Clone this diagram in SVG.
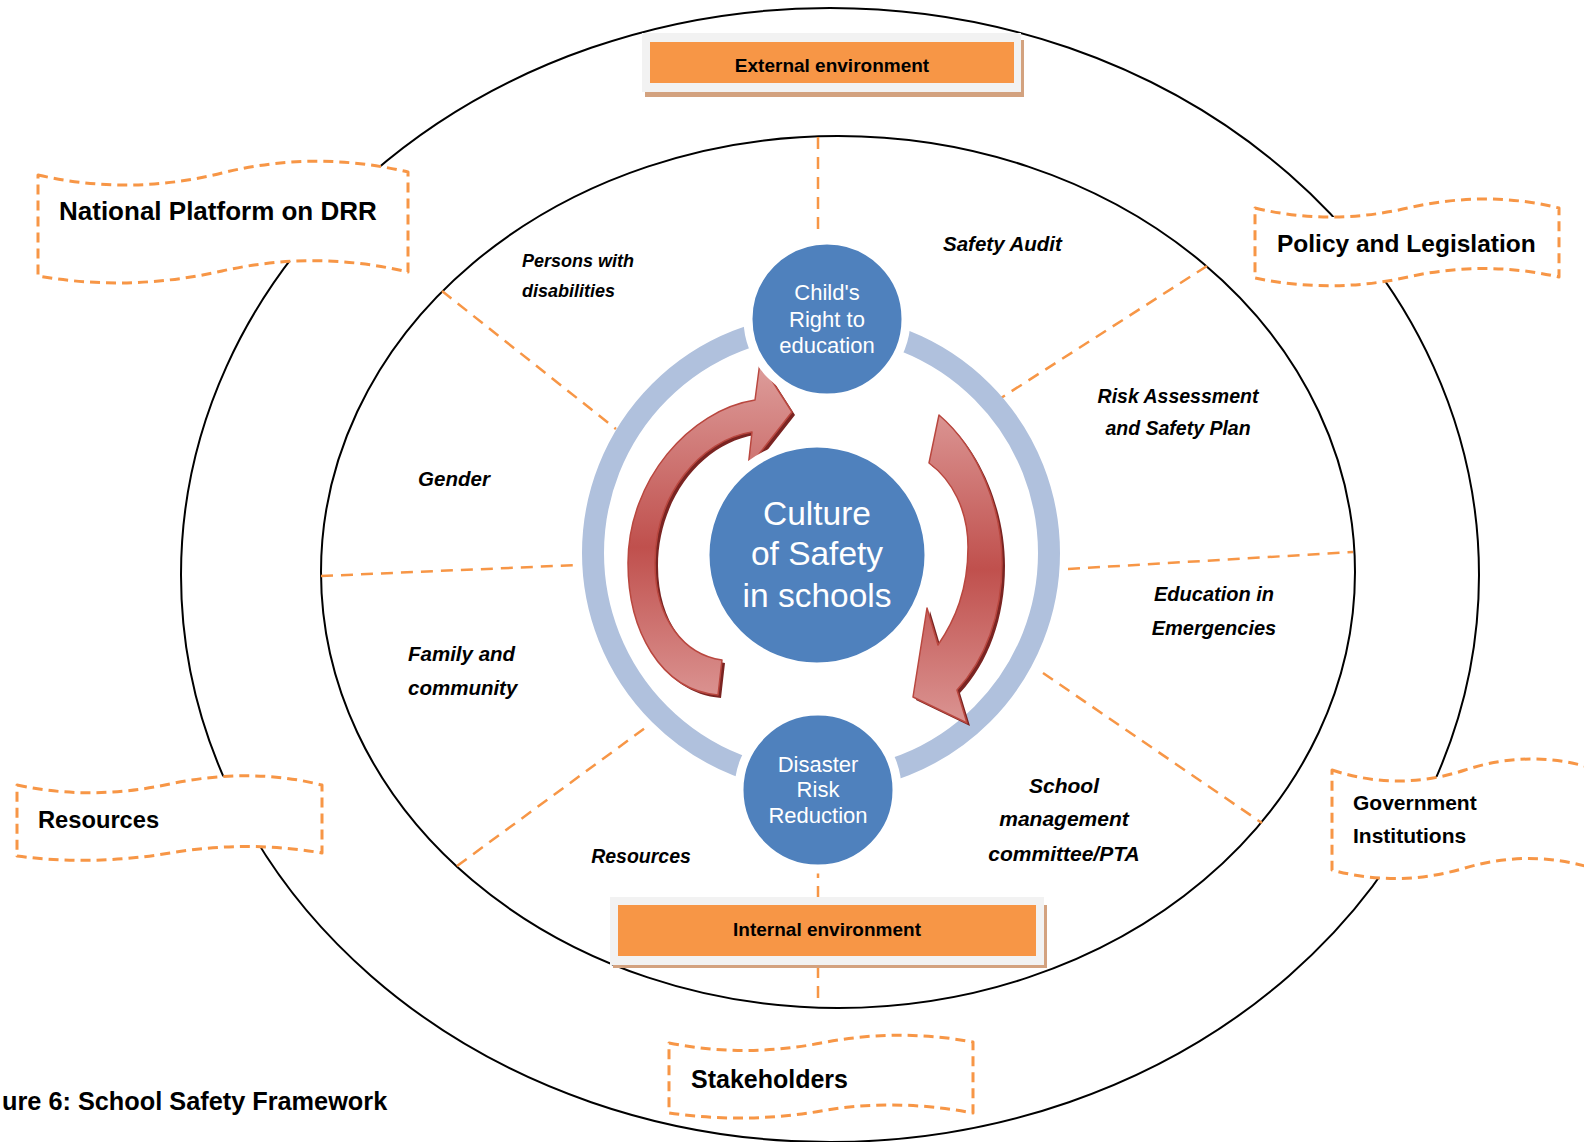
<svg xmlns="http://www.w3.org/2000/svg" width="1584" height="1142" viewBox="0 0 1584 1142">
<defs>
<style>
.ell{fill:none;stroke:#000;stroke-width:2}
.rad{stroke:#f79646;stroke-width:2.5;stroke-dasharray:12 8;fill:none}
.wave{fill:#fff;stroke:#f79646;stroke-width:3;stroke-dasharray:10 6;stroke-linejoin:round}
.node{fill:#4f81bd;stroke:#fff;stroke-width:9}
.ct{font-family:'Liberation Sans',Arial,sans-serif;fill:#fff;text-anchor:middle}
.lbl{font-family:'Liberation Sans',Arial,sans-serif;font-weight:bold;font-style:italic;fill:#000}
.bx{font-family:'Liberation Sans',Arial,sans-serif;font-weight:bold;fill:#000}
.mid{text-anchor:middle}
.arrow{stroke:#b9473f;stroke-width:1.5;stroke-linejoin:round}
.shadow{fill:#7a2422}
</style>
<linearGradient id="gL" gradientUnits="userSpaceOnUse" x1="0" y1="360" x2="0" y2="700">
<stop offset="0" stop-color="#de9f9d"/><stop offset="0.55" stop-color="#c0504d"/><stop offset="1" stop-color="#db9492"/>
</linearGradient>
<linearGradient id="gR" gradientUnits="userSpaceOnUse" x1="0" y1="412" x2="0" y2="726">
<stop offset="0" stop-color="#db9593"/><stop offset="0.5" stop-color="#c0504d"/><stop offset="1" stop-color="#db9593"/>
</linearGradient>
</defs>
<rect width="1584" height="1142" fill="#fff"/>

<g id="frame">
<ellipse class="ell" cx="830" cy="575" rx="649" ry="567"/>
<ellipse class="ell" cx="838" cy="572" rx="517" ry="436"/>
</g>

<g id="connectors">
<line class="rad" x1="818" y1="137" x2="818" y2="244"/>
<line class="rad" x1="818" y1="866" x2="818" y2="1006"/>
<line class="rad" x1="442" y1="291" x2="616" y2="429"/>
<line class="rad" x1="1207" y1="266" x2="1001" y2="398"/>
<line class="rad" x1="321" y1="576" x2="578" y2="565"/>
<line class="rad" x1="1068" y1="569" x2="1353" y2="552"/>
<line class="rad" x1="457" y1="866" x2="645" y2="728"/>
<line class="rad" x1="1043" y1="673" x2="1262" y2="823"/>
</g>

<g id="cycle-ring">
<circle cx="821" cy="553" r="228" fill="none" stroke="#b0c1dd" stroke-width="22"/>
</g>

<g id="arrow-left">
<path class="shadow" transform="translate(3,3)" d="M722,660 L718,695 C660,690 628,630 628,563 C628,480 690,410 755,400 L760,362 L792,412 L748,468 L752,432 C700,440 655,495 655,563 C655,620 685,655 722,660 Z"/>
<path class="arrow" fill="url(#gL)" d="M722,660 L718,695 C660,690 628,630 628,563 C628,480 690,410 755,400 L760,362 L792,412 L748,468 L752,432 C700,440 655,495 655,563 C655,620 685,655 722,660 Z"/>
</g>
<g id="arrow-right">
<path class="shadow" transform="translate(3,3)" d="M939,415 C980,450 1002,510 1002,563 C1002,615 985,660 957,690 L967,723 L913,697 L927,608 L938,645 C955,620 968,590 968,547 C968,510 952,480 929,463 Z"/>
<path class="arrow" fill="url(#gR)" d="M939,415 C980,450 1002,510 1002,563 C1002,615 985,660 957,690 L967,723 L913,697 L927,608 L938,645 C955,620 968,590 968,547 C968,510 952,480 929,463 Z"/>
</g>

<g id="node-child-right">
<circle class="node" cx="827" cy="319" r="79"/>
<text class="ct" font-size="22"><tspan x="827" y="300">Child's</tspan><tspan x="827" y="327">Right to</tspan><tspan x="827" y="353">education</tspan></text>
</g>
<g id="node-culture">
<circle class="node" cx="817" cy="555" r="112"/>
<text class="ct" font-size="33.5"><tspan x="817" y="525">Culture</tspan><tspan x="817" y="565">of Safety</tspan><tspan x="817" y="607">in schools</tspan></text>
</g>
<g id="node-drr">
<circle class="node" cx="818" cy="790" r="79"/>
<text class="ct" font-size="22"><tspan x="818" y="772">Disaster</tspan><tspan x="818" y="797">Risk</tspan><tspan x="818" y="823">Reduction</tspan></text>
</g>

<g id="labels">
<text class="lbl" font-size="18"><tspan x="522" y="267">Persons with</tspan><tspan x="522" y="297">disabilities</tspan></text>
<text class="lbl" font-size="20.5" x="943" y="251">Safety Audit</text>
<text class="lbl mid" font-size="19.5"><tspan x="1178" y="403">Risk Assessment</tspan><tspan x="1178" y="435">and Safety Plan</tspan></text>
<text class="lbl mid" font-size="20.5" x="454" y="486">Gender</text>
<text class="lbl mid" font-size="20"><tspan x="1214" y="601">Education in</tspan><tspan x="1214" y="635">Emergencies</tspan></text>
<text class="lbl" font-size="20.5"><tspan x="408" y="661">Family and</tspan><tspan x="408" y="695">community</tspan></text>
<text class="lbl mid" font-size="21"><tspan x="1064" y="793">School</tspan><tspan x="1064" y="826">management</tspan><tspan x="1064" y="861">committee/PTA</tspan></text>
<text class="lbl mid" font-size="19.5" x="641" y="863">Resources</text>
</g>

<g id="external-environment">
<rect x="645" y="40" width="379" height="57" fill="#d3a27f"/>
<rect x="642" y="33" width="379" height="59" fill="#f2f2f2"/>
<rect x="650" y="42" width="364" height="41" fill="#f79646"/>
<text class="bx mid" font-size="19" x="832" y="72">External environment</text>
</g>
<g id="internal-environment">
<rect x="613" y="905" width="434" height="63" fill="#d3a27f"/>
<rect x="610" y="897" width="434" height="68" fill="#f2f2f2"/>
<rect x="618" y="905" width="418" height="51" fill="#f79646"/>
<text class="bx mid" font-size="19" x="827" y="936">Internal environment</text>
</g>

<g id="national-platform">
<path class="wave" d="M38,175 Q130,196 222,173 T408,172 L408,272 Q315,250 222,271 T38,276 Z"/>
<text class="bx" font-size="26" x="59" y="220">National Platform on DRR</text>
</g>
<g id="policy-legislation">
<path class="wave" d="M1255,208 Q1330,226 1408,208 T1559,208 L1559,277 Q1484,260 1408,277 T1255,278 Z"/>
<text class="bx" font-size="24.5" x="1277" y="252">Policy and Legislation</text>
</g>
<g id="resources-box">
<path class="wave" d="M17,785 Q90,801 170,784 T322,785 L322,853 Q248,840 170,853 T17,856 Z"/>
<text class="bx" font-size="23.7" x="38" y="828">Resources</text>
</g>
<g id="stakeholders">
<path class="wave" d="M669,1043 Q745,1058 821,1043 T973,1042 L973,1113 Q895,1098 821,1111 T669,1113 Z"/>
<text class="bx" font-size="25" x="691" y="1088">Stakeholders</text>
</g>
<g id="government-institutions">
<path class="wave" d="M1332,770 Q1398,792 1465,770 T1598,770 L1598,870 Q1532,848 1465,868 T1332,870 Z"/>
<text class="bx" font-size="21"><tspan x="1353" y="810">Government</tspan><tspan x="1353" y="843">Institutions</tspan></text>
</g>

<g id="caption">
<text class="bx" font-size="25.3" x="2" y="1110">ure 6: School Safety Framework</text>
</g>
</svg>
